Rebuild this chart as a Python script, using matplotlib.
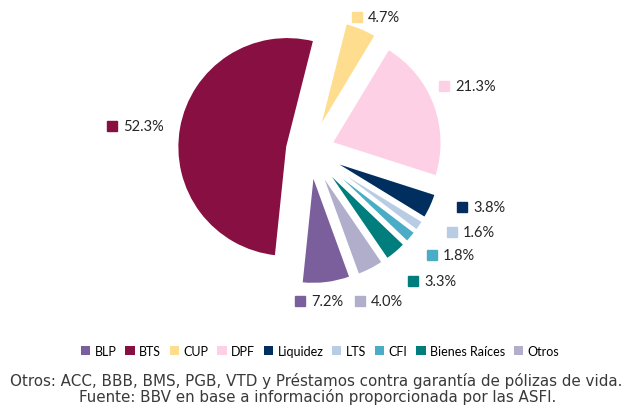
import matplotlib.pyplot as plt
from matplotlib.patches import Patch

# datos de la composicion de cartera
categorias = ['BLP', 'BTS', 'CUP', 'DPF', 'Liquidez', 'LTS', 'CFI', 'Bienes Raíces', 'Otros']
valores = [7.2, 52.3, 4.7, 21.3, 3.8, 1.6, 1.8, 3.3, 4.0]
colores = ['#7B5E9C', '#870F41', '#FFDD8F', '#FDD0E6', '#002E5E',
           '#B8CCE4', '#4BACC6', '#007E7E', '#B0AECB']

# posicion (en pixeles, desde arriba) del cuadrito de cada etiqueta
pos_etiquetas = [(300, 302), (112, 127), (357, 18), (444, 87), (462, 208),
                 (452, 233), (432, 256), (413, 282), (360, 302)]

W, H = 626, 406
cx, cy, r_px = 310, 152, 110   # centro y radio del pie en pixeles

fig = plt.figure(figsize=(W / 100, H / 100), dpi=100)
ax = fig.add_axes([0, 0, 1, 1])

wedges, _ = ax.pie(valores, colors=colores, startangle=290, counterclock=False,
                   explode=[0.21] * len(valores),
                   wedgeprops=dict(edgecolor='white', linewidth=1.6))

ax.set_xlim(-cx / r_px, (W - cx) / r_px)
ax.set_ylim(-(H - cy) / r_px, cy / r_px)
ax.axis('off')

# etiquetas con cuadrito de color
for v, c, (px, py) in zip(valores, colores, pos_etiquetas):
    x = (px - cx) / r_px
    y = (cy - py) / r_px
    ax.plot(x, y, 's', color=c, markersize=6.5)
    ax.text(x + 11 / r_px, y, f'{v:.1f}%', va='center', ha='left',
            fontsize=10.5, family='Lato', color='#262626')

handles = [Patch(facecolor=c, edgecolor='none') for c in colores]
fig.legend(handles, categorias, loc='center', bbox_to_anchor=(320 / W, 1 - 352 / H),
           ncol=9, frameon=False, handlelength=0.75, handleheight=0.75,
           handletextpad=0.35, columnspacing=0.7, prop={'family': 'Lato', 'size': 9})

fig.text(316 / W, 1 - 381 / H,
         'Otros: ACC, BBB, BMS, PGB, VTD y Préstamos contra garantía de pólizas de vida.',
         ha='center', va='center', fontsize=10.9, color='#3a3a3a')
fig.text(318 / W, 1 - 397 / H,
         'Fuente: BBV en base a información proporcionada por las ASFI.',
         ha='center', va='center', fontsize=10.9, color='#3a3a3a')

fig.savefig('out.png', dpi=100)
